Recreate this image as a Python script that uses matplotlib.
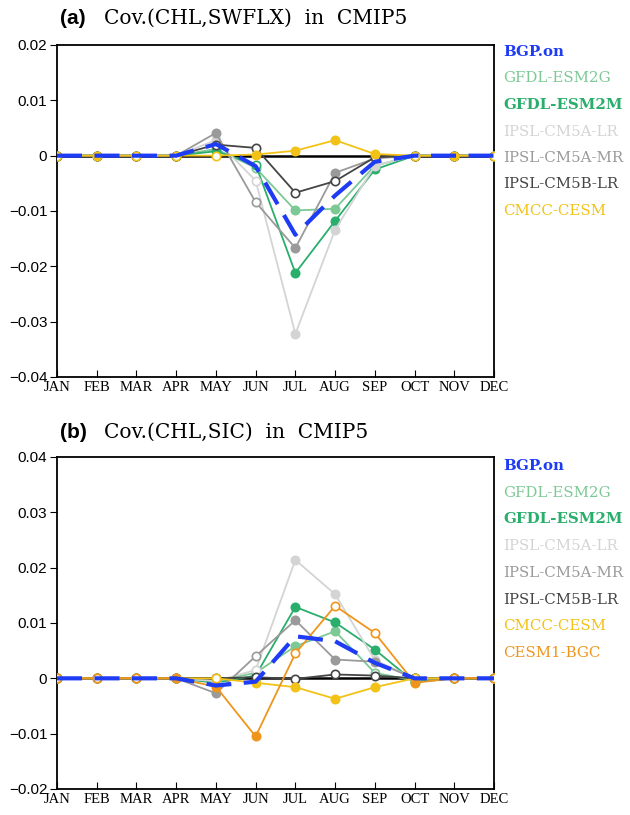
import numpy as np
import matplotlib
matplotlib.use('Agg')
import matplotlib.pyplot as plt

months = ['JAN', 'FEB', 'MAR', 'APR', 'MAY', 'JUN', 'JUL', 'AUG', 'SEP', 'OCT', 'NOV', 'DEC']

# panel (a): Cov.(CHL,SWFLX)
a_bgp = [0, 0, 0, 0, 0.0021, -0.0019, -0.0143, -0.0072, -0.0011, 0, 0, 0]
a_esm2g = [0, 0, 0, 0, 0.0012, -0.0022, -0.0099, -0.0096, -0.0018, 0, 0, 0]
a_esm2m = [0, 0, 0, 0, 0.0008, -0.0016, -0.0212, -0.0118, -0.0025, 0, 0, 0]
a_cm5a_lr = [0, 0, 0, 0, 0.0028, -0.0045, -0.0322, -0.0134, -0.0018, 0, 0, 0]
a_cm5a_mr = [0, 0, 0, 0, 0.0041, -0.0084, -0.0167, -0.0031, -0.0005, 0, 0, 0]
a_cm5b_lr = [0, 0, 0, 0, 0.0020, 0.0014, -0.0067, -0.0046, -0.0003, 0, 0, 0]
a_cmcc = [0, 0, 0, 0, 0.0, 0.0002, 0.0009, 0.0028, 0.0003, 0, 0, 0]

# significance (1 = filled marker)
a_esm2g_sig = [0, 0, 0, 0, 1, 0, 1, 1, 0, 0, 0, 0]
a_esm2m_sig = [0, 0, 0, 0, 1, 0, 1, 1, 1, 0, 0, 0]
a_cm5a_lr_sig = [0, 0, 0, 0, 1, 0, 1, 1, 1, 0, 0, 0]
a_cm5a_mr_sig = [0, 0, 0, 0, 1, 0, 1, 1, 1, 0, 0, 0]
a_cm5b_lr_sig = [0, 0, 0, 0, 0, 0, 0, 0, 0, 0, 0, 0]
a_cmcc_sig = [0, 1, 0, 0, 0, 1, 1, 1, 1, 0, 1, 0]

# panel (b): Cov.(CHL,SIC)
b_bgp = [0, 0, 0, 0, -0.0013, -0.0006, 0.0076, 0.0067, 0.0028, 0, 0, 0]
b_esm2g = [0, 0, 0, 0, -0.0005, 0.0010, 0.0058, 0.0085, 0.0010, -0.0004, 0, 0]
b_esm2m = [0, 0, 0, 0, -0.0008, 0.0005, 0.0129, 0.0101, 0.0052, -0.0007, 0, 0]
b_cm5a_lr = [0, 0, 0, 0, -0.0005, 0.0015, 0.0214, 0.0152, 0.0033, 0, 0, 0]
b_cm5a_mr = [0, 0, 0, 0, -0.0027, 0.0040, 0.0105, 0.0034, 0.0030, 0, 0, 0]
b_cm5b_lr = [0, 0, 0, 0, 0.0, 0.0002, -0.0001, 0.0007, 0.0005, 0, 0, 0]
b_cmcc = [0, 0, 0, 0, 0.0, -0.0008, -0.0016, -0.0037, -0.0016, 0, 0, 0]
b_cesm = [0, 0, 0, 0, -0.0015, -0.0105, 0.0045, 0.0131, 0.0082, -0.0008, 0, 0]

b_esm2g_sig = [0, 0, 0, 0, 0, 0, 1, 1, 0, 1, 0, 0]
b_esm2m_sig = [0, 0, 0, 0, 1, 1, 1, 1, 1, 1, 0, 0]
b_cm5a_lr_sig = [0, 0, 0, 0, 1, 0, 1, 1, 1, 0, 0, 0]
b_cm5a_mr_sig = [0, 0, 0, 0, 1, 0, 1, 1, 1, 0, 0, 0]
b_cm5b_lr_sig = [0, 0, 0, 0, 0, 0, 0, 0, 0, 0, 0, 0]
b_cmcc_sig = [0, 0, 0, 0, 0, 1, 1, 1, 1, 0, 0, 0]
b_cesm_sig = [0, 0, 0, 1, 1, 1, 0, 0, 0, 1, 0, 0]

names = ['BGP.on', 'GFDL-ESM2G', 'GFDL-ESM2M', 'IPSL-CM5A-LR',
         'IPSL-CM5A-MR', 'IPSL-CM5B-LR', 'CMCC-CESM', 'CESM1-BGC']
colors = ['#1f3cf5', '#7cc996', '#2aae6c', '#d4d4d4',
          '#9a9a9a', '#454545', '#f2c216', '#ef951c']


def draw_model(ax, vals, sig, color, z):
    x = np.arange(len(months))
    vals = np.array(vals)
    sig = np.array(sig, dtype=bool)
    ax.plot(x, vals, color=color, lw=1.3, zorder=z)
    ax.plot(x[sig], vals[sig], 'o', ms=6, mfc=color, mec=color, mew=1.2, zorder=z + 0.1)
    ax.plot(x[~sig], vals[~sig], 'o', ms=6, mfc='white', mec=color, mew=1.2, zorder=z + 0.1)


def setup(ax, ylim, yticks):
    ax.set_xlim(0, 11)
    ax.set_ylim(*ylim)
    ax.set_xticks(range(12))
    ax.set_xticklabels(months, family='Liberation Serif', fontsize=10.5)
    ax.set_yticks(yticks)
    ax.set_yticklabels(['0' if t == 0 else f'{t:.2f}'.replace('-', '\u2212') for t in yticks],
                       family='Liberation Sans', fontsize=11)
    ax.tick_params(axis='x', direction='in', length=5, pad=3)
    ax.tick_params(axis='y', direction='out', length=5, pad=2)
    for s in ax.spines.values():
        s.set_linewidth(1.3)
    ax.axhline(0, color='black', lw=1.8, zorder=1)


fig = plt.figure(figsize=(6.3, 8.15), dpi=100)

# ---- panel (a)
ax1 = fig.add_axes([57 / 630, 1 - 377 / 815, 437 / 630, 332 / 815])
setup(ax1, (-0.04, 0.02), [-0.04, -0.03, -0.02, -0.01, 0, 0.01, 0.02])
a_models = [a_esm2g, a_esm2m, a_cm5a_lr, a_cm5a_mr, a_cm5b_lr, a_cmcc]
a_sigs = [a_esm2g_sig, a_esm2m_sig, a_cm5a_lr_sig, a_cm5a_mr_sig, a_cm5b_lr_sig, a_cmcc_sig]
for i, (v, s) in enumerate(zip(a_models, a_sigs)):
    draw_model(ax1, v, s, colors[i + 1], 2 + i)
ax1.plot(range(12), a_bgp, color=colors[0], lw=3, dashes=(6, 3), zorder=20)

fig.text(60 / 630, 1 - 18 / 815, '(a)', family='Liberation Sans', weight='bold',
         fontsize=15, va='center')
fig.text(104 / 630, 1 - 18 / 815, 'Cov.(CHL,SWFLX)  in  CMIP5', family='DejaVu Serif',
         fontsize=14.5, va='center')
for i in range(7):
    fig.text(503 / 630, 1 - (52 + i * 26.5) / 815, names[i], color=colors[i],
             family='DejaVu Serif', fontsize=10.8, va='center',
             weight='bold' if i in (0, 2) else 'normal')

# ---- panel (b)
ax2 = fig.add_axes([57 / 630, 1 - 789 / 815, 437 / 630, 332 / 815])
setup(ax2, (-0.02, 0.04), [-0.02, -0.01, 0, 0.01, 0.02, 0.03, 0.04])
b_models = [b_esm2g, b_esm2m, b_cm5a_lr, b_cm5a_mr, b_cm5b_lr, b_cmcc, b_cesm]
b_sigs = [b_esm2g_sig, b_esm2m_sig, b_cm5a_lr_sig, b_cm5a_mr_sig, b_cm5b_lr_sig, b_cmcc_sig, b_cesm_sig]
for i, (v, s) in enumerate(zip(b_models, b_sigs)):
    draw_model(ax2, v, s, colors[i + 1], 2 + i)
ax2.plot(range(12), b_bgp, color=colors[0], lw=3, dashes=(6, 3), zorder=20)

fig.text(60 / 630, 1 - 432 / 815, '(b)', family='Liberation Sans', weight='bold',
         fontsize=15, va='center')
fig.text(104 / 630, 1 - 432 / 815, 'Cov.(CHL,SIC)  in  CMIP5', family='DejaVu Serif',
         fontsize=14.5, va='center')
for i in range(8):
    fig.text(503 / 630, 1 - (466 + i * 26.7) / 815, names[i], color=colors[i],
             family='DejaVu Serif', fontsize=10.8, va='center',
             weight='bold' if i in (0, 2) else 'normal')

fig.savefig('out.png', dpi=100)
